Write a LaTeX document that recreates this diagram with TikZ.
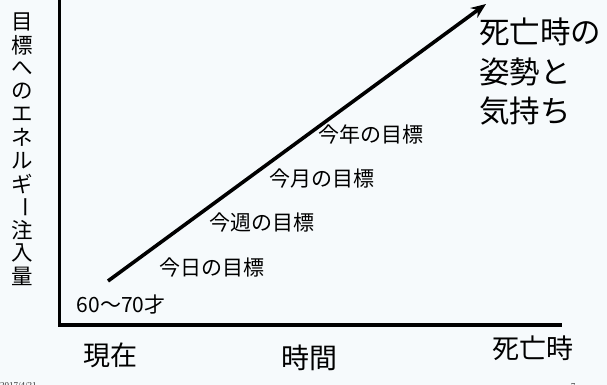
\documentclass[tikz,border=0pt]{standalone}
\usepackage{fontspec}
\setmainfont{Noto Sans CJK JP}
\newfontfamily\footfont{Liberation Serif}
\usetikzlibrary{arrows.meta}
\definecolor{bgc}{HTML}{F6FAFC}
\tikzset{
  axis/.style={line width=3.6pt},
  goal/.style={inner sep=0pt, font=\fontsize{21}{24}\selectfont},
  ylab/.style={inner sep=0pt, font=\fontsize{21.5}{24}\selectfont},
  big/.style={inner sep=0pt, font=\fontsize{27}{30}\selectfont},
}
\begin{document}
\begin{tikzpicture}[x=1pt,y=-1pt]
\fill[bgc] (0,0) rectangle (607,385);
\useasboundingbox (0,0) rectangle (607,385);
% axes
\coordinate (top) at (59.5,0);
\coordinate (origin) at (59.5,325);
\coordinate (right) at (562,325);
\draw[axis, line join=miter] (top) -- (origin) -- (right);
% arrow
\coordinate (start) at (108,281);
\coordinate (tip) at (486,4);
\draw[line width=3.6pt, -{Stealth[length=15pt,width=12pt]}] (start) -- (tip);
% y label
\foreach \c [count=\i] in {目,標,へ,の,エ,ネ,ル,ギ}
  \node[ylab] (y\i) at (22,{22+(\i-1)*23.1}) {\c};
\node[ylab, rotate=-90] (y9) at (22,{22+8*23.1}) {ー};
\foreach \c [count=\i from 10] in {注,入,量}
  \node[ylab] (y\i) at (22,{22+(\i-1)*23.1}) {\c};
% goals
\node[goal] (g1) at (212,268) {今日の目標};
\node[goal] (g2) at (262,223) {今週の目標};
\node[goal] (g3) at (322,179) {今月の目標};
\node[goal] (g4) at (371,135) {今年の目標};
\node[goal] (age) at (121,305) {60〜70才};
% bottom labels
\node[big] (now) at (110,355) {現在};
\node[big, font=\fontsize{28}{30}\selectfont] (time) at (309,358) {時間};
\node[big] (death) at (533,348) {死亡時};
% top right block
\node[inner sep=0pt, anchor=west, font=\fontsize{30.5}{39.5}\selectfont, align=left] (attitude) at (479,72) {死亡時の\\姿勢と\\気持ち};
% footer
\node[inner sep=0pt, anchor=west, font=\footfont\fontsize{9}{10}\selectfont, text=black!80] (date) at (0,386) {2017/4/21};
\node[inner sep=0pt, font=\footfont\fontsize{9}{10}\selectfont, text=black!80] (page) at (573,387) {7};
\end{tikzpicture}
\end{document}
